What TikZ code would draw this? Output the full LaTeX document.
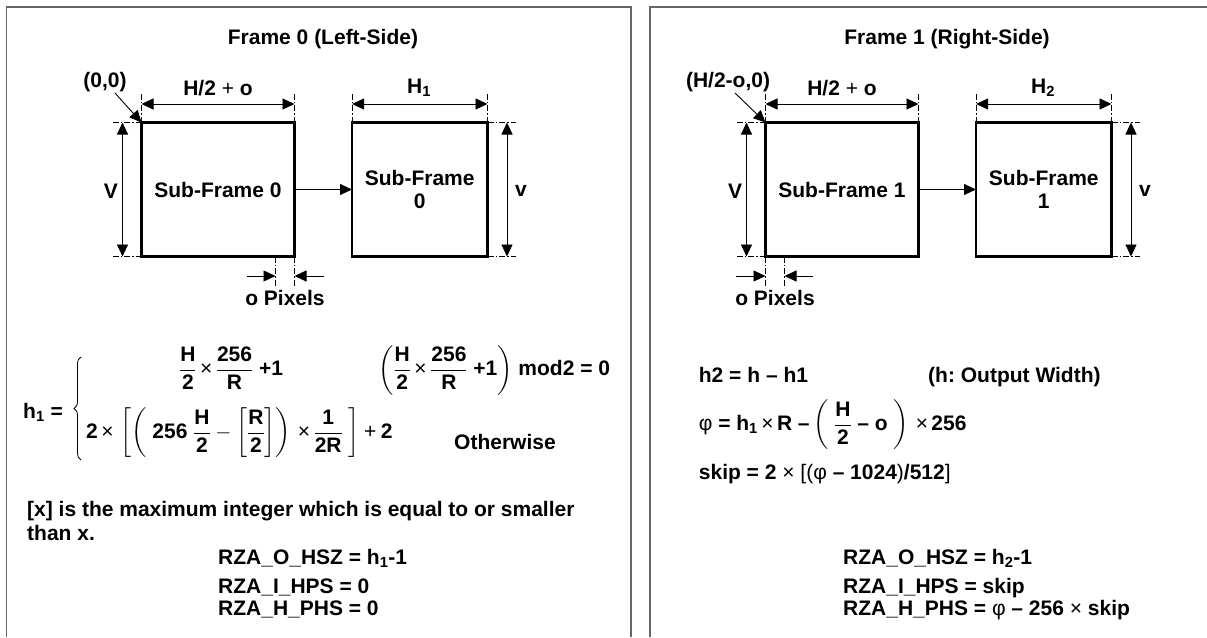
\documentclass[tikz,border=0pt]{standalone}
\usepackage{amsmath}
\usepackage{fontspec}
\setmainfont{Liberation Sans}
\usetikzlibrary{arrows.meta,decorations.pathreplacing}
\frenchspacing
\newcommand\dfont{\fontsize{21}{23}\selectfont\bfseries}
\newcommand\mb[1]{\mbox{#1}}
\newcommand\tm{\mkern3mu\mbox{\mdseries ×}\mkern3mu}
\newcommand\fr[2]{\genfrac{}{}{1pt}{0}{\mbox{#1}}{\mbox{#2}}}
\tikzset{
 panel/.style={draw=black!60, line width=1.6pt},
 subframe/.style={draw, line width=2.8pt, inner sep=0pt, outer sep=0pt, align=center, font=\dfont},
 dim/.style={line width=0.9pt, {Triangle[length=12pt,width=11pt]}-{Triangle[length=12pt,width=11pt]}},
 onearrow/.style={line width=0.9pt, -{Triangle[length=12pt,width=11pt]}},
 ext/.style={line width=0.8pt, dash pattern=on 6pt off 2pt on 1.5pt off 2pt},
 lbl/.style={font=\dfont, inner sep=0pt},
}
\begin{document}
\begin{tikzpicture}[x=1pt,y=-1pt]
\useasboundingbox (0,0) rectangle (1207,637);
% panels
\draw[panel] (6.5,637) -- (6.5,7) -- (631,7) -- (631,637);
\draw[panel] (650,637) -- (650,7) -- (1207,7);

% ---------------- Left panel diagram
\node[lbl] (t0) at (323,39) {Frame 0 (Left-Side)};
\node[subframe, minimum width=153pt, minimum height=134pt] (A0) at (218,189.5) {Sub-Frame 0};
\node[subframe, minimum width=135.5pt, minimum height=134pt] (B0) at (419.75,189.5) {Sub-Frame\\0};
\draw[onearrow] (A0.east) -- (B0.west);
% H/2 + o
\coordinate (d0a) at (141.5,104); \coordinate (d0b) at (294.5,104);
\draw[dim] (d0a) -- (d0b);
\draw[ext] (A0.north west) -- ++(0,-29.5);
\draw[ext] (A0.north east) -- ++(0,-29.5);
\node[lbl] (l0) at (218,88) {H/2 {\mdseries +} o};
% H1
\coordinate (e0a) at (352,104); \coordinate (e0b) at (487.5,104);
\draw[dim] (e0a) -- (e0b);
\draw[ext] (B0.north west) -- ++(0,-29.5);
\draw[ext] (B0.north east) -- ++(0,-29.5);
\node[lbl] (h0) at (419,88) {H\textsubscript{1}};
% V
\coordinate (va0) at (122.5,122.5); \coordinate (vb0) at (122.5,256.5);
\draw[dim] (va0) -- (vb0);
\draw[ext] (A0.north west) -- ++(-28.5,0);
\draw[ext] (A0.south west) -- ++(-28.5,0);
\node[lbl] (V0) at (111,191) {V};
% v
\coordinate (wa0) at (507,122.5); \coordinate (wb0) at (507,256.5);
\draw[dim] (wa0) -- (wb0);
\draw[ext] (B0.north east) -- ++(28.5,0);
\draw[ext] (B0.south east) -- ++(28.5,0);
\node[lbl] (v0) at (521,191) {v};
% origin
\node[lbl] (o0) at (105,82) {(0,0)};
\coordinate (o0s) at (115,93);
\draw[onearrow] (o0s) -- (A0.north west);
% o pixels
\coordinate (p0a) at (275.5,256.5);
\draw[ext] (p0a) -- ++(0,31);
\draw[ext] (A0.south east) -- ++(0,31);
\coordinate (q0a) at (247,276); \coordinate (q0b) at (275.5,276);
\coordinate (q0c) at (324,276); \coordinate (q0d) at (294.5,276);
\draw[onearrow] (q0a) -- (q0b);
\draw[onearrow] (q0c) -- (q0d);
\node[lbl] (op0) at (285,298) {o Pixels};

% ---------------- Left panel formulas
\node[lbl] (h1l) at (43,412) {h\textsubscript{1} =};
\coordinate (bt) at (81,357); \coordinate (bb) at (81,460);
\draw[decorate, decoration={brace, amplitude=7pt}, line width=0.8pt] (bb) -- (bt);
\node[lbl, anchor=base] (r1) at (231,375.5) {$\smash[b]{\fr{H}{2}\tm\fr{256}{R}\;\mb{+1}}$};
\node[lbl, anchor=base west] (r1b) at (378,375.5) {$\smash[b]{\left(\fr{H}{2}\tm\fr{256}{R}\;\mb{+1}\right)}$\ mod2 = 0};
\node[lbl, anchor=west] (r2) at (86,433) {$\mb{2}\tm\left[\left(\;\mb{256}\;\fr{H}{2}-\left[\fr{R}{2}\right]\right)\tm\fr{1}{2R}\;\right]\mathbin{\mb{\mdseries +}}\mb{2}$};
\node[lbl] (ow) at (505,442) {Otherwise};
\node[lbl, anchor=base west] (n1) at (27,516.5) {[x] is the maximum integer which is equal to or smaller};
\node[lbl, anchor=base west] (n2) at (27,540.5) {than x.};
\node[lbl, anchor=base west] (z1) at (218,564.5) {RZA\_O\_HSZ = h\textsubscript{1}-1};
\node[lbl, anchor=base west] (z2) at (218,593.5) {RZA\_I\_HPS = 0};
\node[lbl, anchor=base west] (z3) at (218,615.5) {RZA\_H\_PHS = 0};

% ---------------- Right panel diagram
\node[lbl] (t1) at (947,39) {Frame 1 (Right-Side)};
\node[subframe, minimum width=153pt, minimum height=134pt] (A1) at (842,189.5) {Sub-Frame 1};
\node[subframe, minimum width=135.5pt, minimum height=134pt] (B1) at (1043.75,189.5) {Sub-Frame\\1};
\draw[onearrow] (A1.east) -- (B1.west);
\coordinate (d1a) at (765.5,104); \coordinate (d1b) at (918.5,104);
\draw[dim] (d1a) -- (d1b);
\draw[ext] (A1.north west) -- ++(0,-29.5);
\draw[ext] (A1.north east) -- ++(0,-29.5);
\node[lbl] (l1) at (842,88) {H/2 {\mdseries +} o};
\coordinate (e1a) at (976,104); \coordinate (e1b) at (1111.5,104);
\draw[dim] (e1a) -- (e1b);
\draw[ext] (B1.north west) -- ++(0,-29.5);
\draw[ext] (B1.north east) -- ++(0,-29.5);
\node[lbl] (h1) at (1043,88) {H\textsubscript{2}};
\coordinate (va1) at (746.5,122.5); \coordinate (vb1) at (746.5,256.5);
\draw[dim] (va1) -- (vb1);
\draw[ext] (A1.north west) -- ++(-28.5,0);
\draw[ext] (A1.south west) -- ++(-28.5,0);
\node[lbl] (V1) at (735,191) {V};
\coordinate (wa1) at (1131,122.5); \coordinate (wb1) at (1131,256.5);
\draw[dim] (wa1) -- (wb1);
\draw[ext] (B1.north east) -- ++(28.5,0);
\draw[ext] (B1.south east) -- ++(28.5,0);
\node[lbl] (v1) at (1145,191) {v};
\node[lbl] (o1) at (728,82) {(H/2-o,0)};
\coordinate (o1s) at (735,93);
\draw[onearrow] (o1s) -- (A1.north west);
\coordinate (p1a) at (784.5,256.5);
\draw[ext] (A1.south west) -- ++(0,31);
\draw[ext] (p1a) -- ++(0,31);
\coordinate (q1a) at (736,276); \coordinate (q1b) at (765.5,276);
\coordinate (q1c) at (813,276); \coordinate (q1d) at (784.5,276);
\draw[onearrow] (q1a) -- (q1b);
\draw[onearrow] (q1c) -- (q1d);
\node[lbl] (op1) at (775,298) {o Pixels};

% ---------------- Right panel formulas
\node[lbl, anchor=base west] (f1) at (698.7,382.5) {h2 = h – h1};
\node[lbl, anchor=base west] (f1b) at (928,382.5) {(h: Output Width)};
\node[lbl, anchor=west] (f2) at (698.7,425) {$\mb{\mdseries φ}\;\mb{= h\textsubscript{1}}\tm\mb{R}\;\mb{–}\left(\;\fr{H}{2}\;\mb{– o}\;\right)\tm\mb{256}$};
\node[lbl, anchor=base west] (f3) at (698.7,479.5) {skip = 2 {\mdseries × [(φ} – 1024{\mdseries )}/512{\mdseries ]}};
\node[lbl, anchor=base west] (y1) at (843,564.5) {RZA\_O\_HSZ = h\textsubscript{2}-1};
\node[lbl, anchor=base west] (y2) at (843,593.5) {RZA\_I\_HPS = skip};
\node[lbl, anchor=base west] (y3) at (843,615.5) {RZA\_H\_PHS = {\mdseries φ} – 256 {\mdseries ×} skip};
\end{tikzpicture}
\end{document}
